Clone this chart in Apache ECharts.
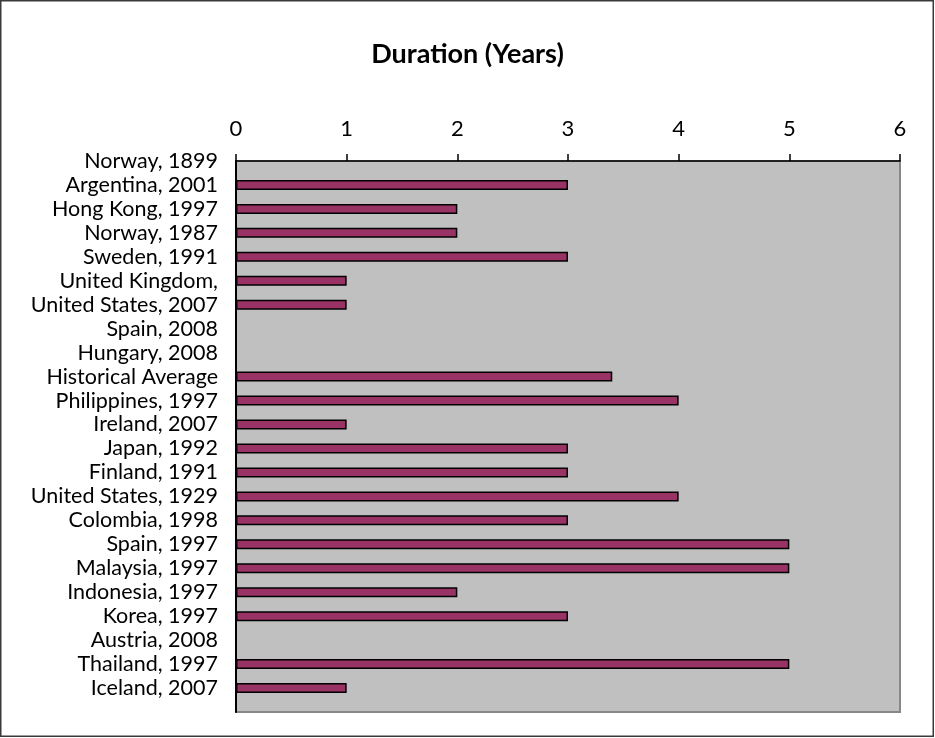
<!DOCTYPE html>
<html>
<head>
<meta charset="utf-8">
<script src="https://cdn.jsdelivr.net/npm/echarts@6/dist/echarts.min.js"></script>
<style>
  html, body { margin: 0; padding: 0; background: #fff; }
  #chart { width: 935px; height: 738px; }
</style>
</head>
<body>
<div id="chart"></div>
<script>
// Banking crises: duration of the downturn, in years (top to bottom)
var crises = [
  'Norway, 1899', 'Argentina, 2001', 'Hong Kong, 1997', 'Norway, 1987',
  'Sweden, 1991', 'United Kingdom,', 'United States, 2007', 'Spain, 2008',
  'Hungary, 2008', 'Historical Average', 'Philippines, 1997', 'Ireland, 2007',
  'Japan, 1992', 'Finland, 1991', 'United States, 1929', 'Colombia, 1998',
  'Spain, 1997', 'Malaysia, 1997', 'Indonesia, 1997', 'Korea, 1997',
  'Austria, 2008', 'Thailand, 1997', 'Iceland, 2007'
];
var durationYears = [
  null, 3, 2, 2,
  3, 1, 1, null,
  null, 3.4, 4, 1,
  3, 3, 4, 3,
  5, 5, 2, 3,
  null, 5, 1
];
var xTicks = [0, 1, 2, 3, 4, 5, 6];

// categories sit on tick positions; a trailing blank slot closes the axis
var cats = crises.concat(['']);
var vals = durationYears.concat([null]);

var FONT = 'Lato, "Liberation Sans", sans-serif';
var chart = echarts.init(document.getElementById('chart'), null, { renderer: 'canvas' });

chart.setOption({
  animation: false,
  backgroundColor: '#ffffff',
  title: {
    text: 'Duration (Years)',
    left: 'center',
    top: 36,
    textStyle: { fontFamily: FONT, fontSize: 27, fontWeight: 'bold', color: '#000' }
  },
  graphic: [{
    type: 'rect',
    shape: { x: 0.75, y: 0.75, width: 932.5, height: 735.5 },
    style: { fill: 'none', stroke: '#3a3a3a', lineWidth: 1.5 },
    silent: true,
    z: 100
  }],
  grid: {
    left: 236, right: 35, top: 161, bottom: 26,
    show: true,
    backgroundColor: '#c0c0c0',
    borderColor: '#888888',
    borderWidth: 2
  },
  xAxis: {
    type: 'value',
    position: 'top',
    min: xTicks[0],
    max: xTicks[xTicks.length - 1],
    interval: 1,
    axisLine: { show: true, lineStyle: { color: '#000', width: 1.5 } },
    axisTick: { show: true, length: 7, lineStyle: { color: '#000', width: 1.5 } },
    splitLine: { show: false },
    axisLabel: { fontFamily: FONT, fontSize: 22, color: '#000', margin: 21 }
  },
  yAxis: {
    type: 'category',
    data: cats,
    inverse: true,
    boundaryGap: false,
    axisLine: { show: true, lineStyle: { color: '#000', width: 2 } },
    axisTick: { show: false },
    splitLine: { show: false },
    axisLabel: { fontFamily: FONT, fontSize: 21.5, color: '#000', margin: 18, interval: 0 }
  },
  series: [{
    type: 'bar',
    data: vals,
    barWidth: 10,
    itemStyle: { color: '#993366', borderColor: '#000', borderWidth: 1.5 }
  }]
});
</script>
</body>
</html>
